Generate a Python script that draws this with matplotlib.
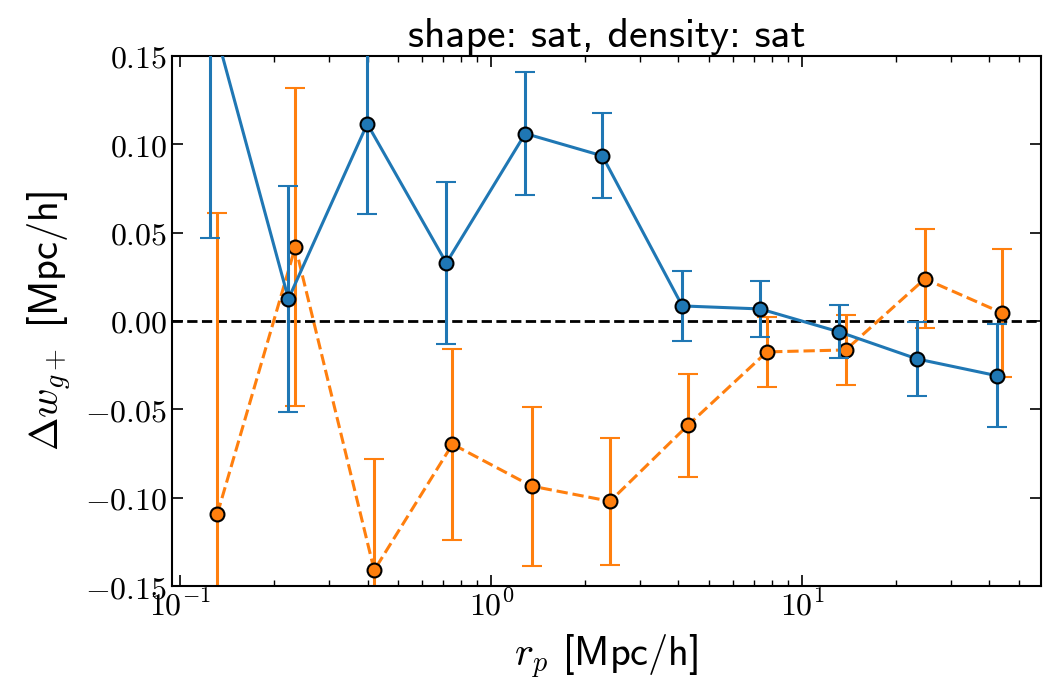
import numpy as np
import matplotlib
matplotlib.use("Agg")
import matplotlib.pyplot as plt
from matplotlib.ticker import FuncFormatter, LogLocator

plt.rcParams['mathtext.fontset'] = 'cm'
plt.rcParams['font.family'] = 'DejaVu Sans'

# data
rp_sat = [0.1248, 0.2225, 0.399, 0.7167, 1.286, 2.275, 4.113, 7.328, 13.16, 23.44, 42.4]
dw_sat = [0.175, 0.0125, 0.1115, 0.0328, 0.106, 0.0934, 0.0085, 0.0068, -0.0062, -0.0215, -0.031]
err_sat = [0.128, 0.064, 0.051, 0.046, 0.035, 0.024, 0.020, 0.016, 0.015, 0.021, 0.029]

rp_alt = [0.1315, 0.2343, 0.420, 0.7501, 1.347, 2.41, 4.29, 7.7, 13.8, 24.8, 44.0]
dw_alt = [-0.109, 0.042, -0.141, -0.0697, -0.0934, -0.102, -0.059, -0.0175, -0.0164, 0.0238, 0.0045]
err_alt = [0.170, 0.090, 0.063, 0.054, 0.045, 0.036, 0.029, 0.020, 0.020, 0.028, 0.036]

yticks = [-0.15, -0.10, -0.05, 0.0, 0.05, 0.10, 0.15]

fig = plt.figure(figsize=(10.43, 6.80), dpi=100)
ax = fig.add_axes([0.165, 0.138, 0.833, 0.780])

ax.axhline(0, color='k', ls='--', lw=2, zorder=1)

ax.errorbar(rp_sat, dw_sat, yerr=err_sat, color='#1f77b4', ls='-', lw=2.2,
            marker='o', ms=10, mec='k', mew=1.5, capsize=7, capthick=2, elinewidth=2.2, zorder=3)
ax.errorbar(rp_alt, dw_alt, yerr=err_alt, color='#ff7f0e', ls='--', lw=2.2,
            marker='o', ms=10, mec='k', mew=1.5, capsize=7, capthick=2, elinewidth=2.2, zorder=2)

ax.set_xscale('log')
ax.set_xlim(0.094, 58.6)
ax.set_ylim(-0.15, 0.15)
ax.xaxis.set_major_locator(LogLocator(base=10))
ax.xaxis.set_major_formatter(FuncFormatter(lambda v, p: '$10^{%d}$' % round(np.log10(v))))
ax.set_yticks(yticks)
ax.yaxis.set_major_formatter(FuncFormatter(lambda v, p: '$%.2f$' % v if abs(v) > 1e-9 else '$0.00$'))

ax.tick_params(which='both', direction='in', top=True, right=True, labelsize=23)
ax.tick_params(which='major', length=8, width=1.2)
ax.tick_params(which='minor', length=4, width=1.0)
for s in ax.spines.values():
    s.set_linewidth(1.5)

ax.set_xlabel(r'$r_p$ [Mpc/h]', fontsize=29, labelpad=7, family='cmss10')
ax.set_ylabel(r'$\Delta w_{g+}$ [Mpc/h]', fontsize=29, labelpad=8, family='cmss10')
ax.set_title('shape: sat, density: sat', fontsize=30, pad=6, family='cmss10')

fig.savefig('out.png', dpi=100)
